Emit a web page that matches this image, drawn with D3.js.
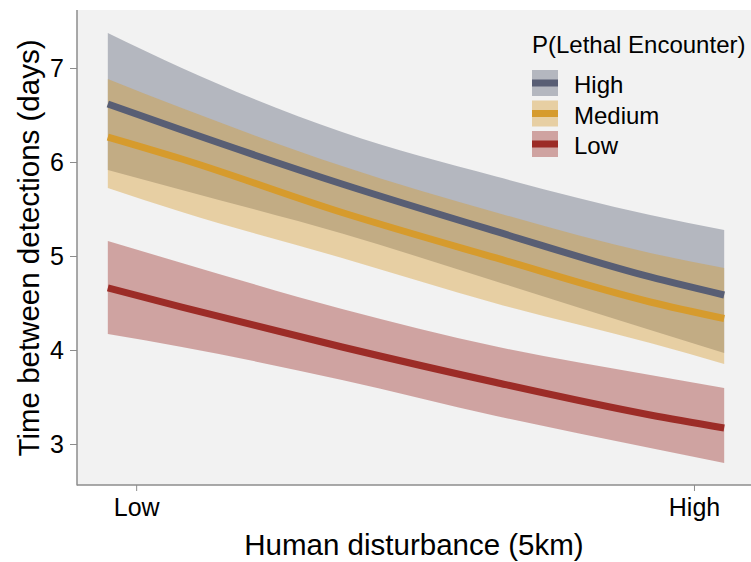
<!DOCTYPE html>
<html>
<head>
<meta charset="utf-8">
<script src="https://cdn.jsdelivr.net/npm/d3@7"></script>
<style>
  html, body { margin: 0; padding: 0; background: #ffffff; }
  svg { display: block; font-family: Arial, "Liberation Sans", Helvetica, sans-serif; }
</style>
</head>
<body>
<svg id="chart" width="751" height="562"></svg>
<script>
// Human disturbance, scaled 0 (low) to 1 (high)
const disturbance = [0, 0.12, 0.38, 0.63, 0.88, 1];

// Predicted time between detections (days) for each P(Lethal Encounter) level
const highMean  = [6.617, 6.340, 5.766, 5.261, 4.777, 4.585];
const highUpper = [7.372, 7.000, 6.319, 5.846, 5.436, 5.277];
const highLower = [5.915, 5.702, 5.239, 4.729, 4.213, 3.968];

const medMean   = [6.266, 6.032, 5.463, 4.979, 4.511, 4.335];
const medUpper  = [6.883, 6.574, 5.957, 5.463, 5.032, 4.872];
const medLower  = [5.723, 5.468, 4.979, 4.495, 4.074, 3.851];

const lowMean   = [4.660, 4.457, 4.032, 3.654, 3.309, 3.170];
const lowUpper  = [5.160, 4.926, 4.436, 4.037, 3.734, 3.596];
const lowLower  = [4.170, 4.032, 3.681, 3.298, 2.957, 2.798];

const levelNames = ["High", "Medium", "Low"];
const levelColors = ["#585e74", "#d69b2d", "#9c2c27"];

const yTicks = [3, 4, 5, 6, 7];
const xTickValues = [0.046, 0.951];
const xTickLabels = ["Low", "High"];

const series = [
  { name: levelNames[0], color: levelColors[0], mean: highMean, upper: highUpper, lower: highLower },
  { name: levelNames[1], color: levelColors[1], mean: medMean,  upper: medUpper,  lower: medLower },
  { name: levelNames[2], color: levelColors[2], mean: lowMean,  upper: lowUpper,  lower: lowLower }
];

const svg = d3.select("#chart");
const panel = { left: 77, right: 755, top: 10, bottom: 485 };

const x = d3.scaleLinear().domain([-0.05, 1.05]).range([panel.left, panel.right]);
const y = d3.scaleLinear().domain([2.564, 7.617]).range([panel.bottom, panel.top]);

// panel background
svg.append("rect")
  .attr("x", panel.left).attr("y", panel.top)
  .attr("width", panel.right - panel.left).attr("height", panel.bottom - panel.top)
  .attr("fill", "#f2f2f2");

const plot = svg.append("g");

// confidence ribbons
const area = d3.area()
  .x((d, i) => x(disturbance[i]))
  .y0(d => y(d[0]))
  .y1(d => y(d[1]))
  .curve(d3.curveMonotoneX);

series.forEach(s => {
  const pts = s.lower.map((lo, i) => [lo, s.upper[i]]);
  plot.append("path")
    .datum(pts)
    .attr("d", area)
    .attr("fill", s.color)
    .attr("fill-opacity", 0.4);
});

// mean prediction lines
const line = d3.line()
  .x((d, i) => x(disturbance[i]))
  .y(d => y(d))
  .curve(d3.curveMonotoneX);

series.forEach(s => {
  plot.append("path")
    .datum(s.mean)
    .attr("d", line)
    .attr("fill", "none")
    .attr("stroke", s.color)
    .attr("stroke-width", 7);
});

// axes
const axisColor = "#8c8c8c";

const yAxis = svg.append("g")
  .attr("transform", `translate(${panel.left},0)`)
  .call(d3.axisLeft(y).tickValues(yTicks).tickSize(7).tickPadding(6).tickFormat(d3.format("d")));
yAxis.select(".domain").remove();
yAxis.selectAll(".tick line").attr("stroke", axisColor).attr("stroke-width", 1);
yAxis.selectAll(".tick text").attr("fill", "#000").attr("font-size", 25)
  .attr("font-family", "Arial, 'Liberation Sans', sans-serif");

const xAxis = svg.append("g")
  .attr("transform", `translate(0,${panel.bottom})`)
  .call(d3.axisBottom(x).tickValues(xTickValues).tickSize(6).tickPadding(7)
    .tickFormat((d, i) => xTickLabels[i]));
xAxis.select(".domain").remove();
xAxis.selectAll(".tick line").attr("stroke", axisColor).attr("stroke-width", 1);
xAxis.selectAll(".tick text").attr("fill", "#000").attr("font-size", 25)
  .attr("font-family", "Arial, 'Liberation Sans', sans-serif");

// axis lines
svg.append("line")
  .attr("x1", panel.left).attr("x2", panel.left)
  .attr("y1", panel.top).attr("y2", panel.bottom + 0.5)
  .attr("stroke", axisColor).attr("stroke-width", 1.5);
svg.append("line")
  .attr("x1", panel.left).attr("x2", 751)
  .attr("y1", panel.bottom).attr("y2", panel.bottom)
  .attr("stroke", axisColor).attr("stroke-width", 1.5);

// axis titles
svg.append("text")
  .attr("x", (panel.left + 751) / 2).attr("y", 555)
  .attr("text-anchor", "middle")
  .attr("font-size", 29.5)
  .attr("fill", "#000")
  .text("Human disturbance (5km)");

svg.append("text")
  .attr("transform", `translate(39,${248}) rotate(-90)`)
  .attr("text-anchor", "middle")
  .attr("font-size", 29.5)
  .attr("fill", "#000")
  .text("Time between detections (days)");

// legend
const legend = svg.append("g").attr("transform", "translate(532,0)");
legend.append("text")
  .attr("x", 0).attr("y", 53)
  .attr("font-size", 24)
  .attr("fill", "#000")
  .text("P(Lethal Encounter)");

series.forEach((s, i) => {
  const top = 70 + i * 30.5;
  const g = legend.append("g").attr("transform", `translate(0,${top})`);
  g.append("rect")
    .attr("width", 26).attr("height", 26)
    .attr("fill", s.color).attr("fill-opacity", 0.4);
  g.append("rect")
    .attr("y", 9.5).attr("width", 26).attr("height", 7)
    .attr("fill", s.color);
  g.append("text")
    .attr("x", 42).attr("y", 23)
    .attr("font-size", 24)
    .attr("fill", "#000")
    .text(s.name);
});
</script>
</body>
</html>
